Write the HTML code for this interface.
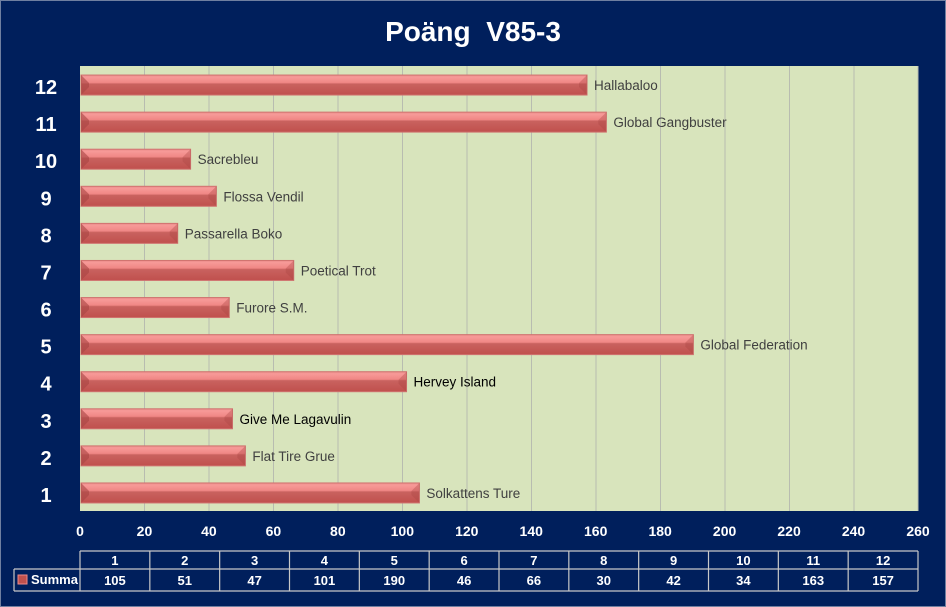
<!DOCTYPE html>
<html><head><meta charset="utf-8"><style>
html,body{margin:0;padding:0;background:#001f5c;}
svg{display:block;font-family:"Liberation Sans",sans-serif;}
</style></head><body>
<svg width="946" height="607" xmlns="http://www.w3.org/2000/svg">
<defs>
<linearGradient id="g" x1="0" y1="0" x2="0" y2="1">
<stop offset="0" stop-color="#e88a88"/><stop offset="0.1" stop-color="#f79a98"/>
<stop offset="0.38" stop-color="#f08785"/><stop offset="0.45" stop-color="#c9625f"/>
<stop offset="1" stop-color="#c0504d"/></linearGradient>
</defs>
<rect x="0" y="0" width="946" height="607" fill="#001f5c"/>
<rect x="0.5" y="0.5" width="945" height="606" fill="none" stroke="#6f7fa0" stroke-width="1"/>
<text x="473" y="41" fill="#fff" font-size="28" font-weight="bold" text-anchor="middle" xml:space="preserve">Poäng  V85-3</text>
<rect x="80" y="66" width="838" height="445" fill="#d8e4bc"/>
<g stroke="#b8bcb0" stroke-width="1">
<line x1="144.5" y1="66" x2="144.5" y2="511"/><line x1="209" y1="66" x2="209" y2="511"/>
<line x1="273.5" y1="66" x2="273.5" y2="511"/><line x1="338" y1="66" x2="338" y2="511"/>
<line x1="402.5" y1="66" x2="402.5" y2="511"/><line x1="467" y1="66" x2="467" y2="511"/>
<line x1="531.5" y1="66" x2="531.5" y2="511"/><line x1="596" y1="66" x2="596" y2="511"/>
<line x1="660.5" y1="66" x2="660.5" y2="511"/><line x1="725" y1="66" x2="725" y2="511"/>
<line x1="789.5" y1="66" x2="789.5" y2="511"/><line x1="854" y1="66" x2="854" y2="511"/>
<line x1="918" y1="66" x2="918" y2="511"/>
</g>
<g id="bars"></g>
<g id="labels" font-size="13.5" fill="#404040"></g>
<g id="ylab" font-size="20" font-weight="bold" fill="#fff" text-anchor="middle"></g>
<g id="xlab" font-size="14" font-weight="bold" fill="#fff" text-anchor="middle"></g>
<g stroke="#c8c8c8" stroke-width="1.2" fill="none" id="tbl"></g>
<g font-size="13" font-weight="bold" fill="#fff" text-anchor="middle" id="tt"></g>
<rect x="18" y="575" width="9" height="9" fill="#c0504d" stroke="#e88" stroke-width="1"/>
<text x="31" y="584" font-size="13" font-weight="bold" fill="#fff">Summa</text>
<script>
var vals=[105,51,47,101,190,46,66,30,42,34,163,157];
var names=["Solkattens Ture","Flat Tire Grue","Give Me  Lagavulin","Hervey Island","Global Federation","Furore S.M.","Poetical Trot","Passarella Boko","Flossa Vendil","Sacrebleu","Global Gangbuster","Hallabaloo"];
var NS="http://www.w3.org/2000/svg";
function el(p,t,a,txt){var e=document.createElementNS(NS,t);for(var k in a)e.setAttribute(k,a[k]);if(txt!=null)e.textContent=txt;document.getElementById(p).appendChild(e);return e;}
var sc=838/260;
for(var i=0;i<12;i++){
 var cy=511-(i+0.5)*445/12+0.5, w=vals[i]*sc, y=cy-10;
 el("bars","rect",{x:81,y:y,width:w,height:20,fill:"url(#g)",stroke:"#d07370","stroke-width":1});
 el("bars","polygon",{points:(81)+","+y+" "+(89)+","+(y+8)+" "+(89)+","+(y+12)+" "+81+","+(y+20),fill:"#a94542",opacity:0.6});
 el("bars","polygon",{points:(81+w)+","+y+" "+(73+w)+","+(y+8)+" "+(73+w)+","+(y+12)+" "+(81+w)+","+(y+20),fill:"#a94542",opacity:0.35});
 var bl=(i==2||i==3);
 el("labels","text",{x:81+w+7,y:cy+5,fill:bl?"#000":"#404040","xml:space":"preserve"},names[i]);
 el("ylab","text",{x:46,y:cy+9},String(i+1));
}
for(var j=0;j<=13;j++){el("xlab","text",{x:80+j*20*sc,y:536},String(j*20));}
var cw=838/12;
el("tbl","line",{x1:80,y1:551,x2:918,y2:551});
el("tbl","line",{x1:14,y1:569,x2:918,y2:569});
el("tbl","line",{x1:14,y1:591,x2:918,y2:591});
el("tbl","line",{x1:14,y1:569,x2:14,y2:591});
for(var j=0;j<=12;j++){el("tbl","line",{x1:80+j*cw,y1:551,x2:80+j*cw,y2:591});}
for(var j=0;j<12;j++){el("tt","text",{x:80+(j+0.5)*cw,y:565},String(j+1));el("tt","text",{x:80+(j+0.5)*cw,y:585},String(vals[j]));}
</script>
</svg>
</body></html>
